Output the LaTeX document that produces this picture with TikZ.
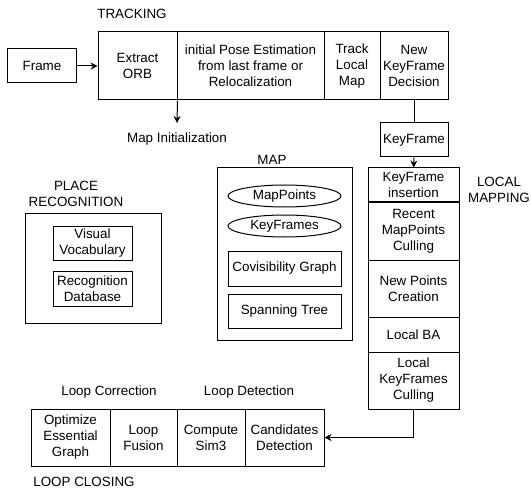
\documentclass[tikz,border=0pt]{standalone}
\usepackage{fontspec}
\setmainfont{Liberation Sans}
\usetikzlibrary{arrows.meta,shapes.geometric}
\begin{document}
\begin{tikzpicture}[x=1bp,y=-1bp,
  every node/.style={font=\fontsize{13.4bp}{16bp}\selectfont, inner sep=0pt, align=center},
  box/.style={draw, line width=1bp, minimum width=#1},
  lbl/.style={},
  conn/.style={line width=1bp, -{Stealth[length=7bp,width=7bp]}},
  plain/.style={line width=1bp}]
\useasboundingbox (0,0) rectangle (531,492);

% TRACKING
\node[lbl] (trk) at (132,14) {TRACKING};
\node[box=68bp, minimum height=34bp] (frame) at (42,66) {Frame};
\node[box=79bp, minimum height=68bp] (orb) at (137.5,66) {Extract\\ORB};
\node[box=147bp, minimum height=68bp] (pose) at (250.5,66) {initial Pose Estimation\\from last frame or\\Relocalization};
\node[box=56bp, minimum height=68bp] (tlm) at (352,66) {Track\\Local\\Map};
\node[box=68bp, minimum height=68bp] (nkd) at (414,66) {New\\KeyFrame\\Decision};
\draw[conn] (frame) -- (orb);
\node[lbl] (mapinit) at (177,139) {Map Initialization};
\coordinate (mi) at (177,123);
\draw[conn] (orb.south east) -- (mi);
\node[box=68bp, minimum height=34bp] (kf) at (414,140) {KeyFrame};
\draw[plain] (nkd) -- (kf);

% LOCAL MAPPING
\node[lbl] (lmlbl) at (499,190) {LOCAL\\MAPPING};
\node[box=91bp, minimum height=34bp] (kfi) at (413.5,185) {KeyFrame\\insertion};
\node[box=91bp, minimum height=58bp] (rmc) at (413.5,231) {Recent\\MapPoints\\Culling};
\node[box=91bp, minimum height=57bp] (npc) at (413.5,288.5) {New Points\\Creation};
\node[box=91bp, minimum height=35bp] (lba) at (413.5,334.5) {Local BA};
\node[box=91bp, minimum height=57bp] (lkc) at (413.5,380.5) {Local\\KeyFrames\\Culling};
\draw[conn] (kf) -- (kfi);

% MAP
\node[lbl] (maplbl) at (272,160) {MAP};
\node[box=135bp, minimum height=172bp] (mapbox) at (284.5,254) {};
\node[draw, line width=1bp, ellipse, minimum width=113bp, minimum height=22bp] (mp) at (284.5,196) {MapPoints};
\node[draw, line width=1bp, ellipse, minimum width=113bp, minimum height=22bp] (kfs) at (284.5,226) {KeyFrames};
\node[box=113bp, minimum height=35bp] (cov) at (284.5,268.5) {Covisibility Graph};
\node[box=113bp, minimum height=34bp] (span) at (284.5,311) {Spanning Tree};

% PLACE RECOGNITION
\node[lbl] (prlbl) at (76,194) {PLACE\\RECOGNITION};
\node[box=135bp, minimum height=109bp] (prbox) at (93.5,268.5) {};
\node[box=79bp, minimum height=34bp] (vv) at (92.5,243) {Visual\\Vocabulary};
\node[box=79bp, minimum height=35bp] (rd) at (92.5,288.5) {Recognition\\Database};

% LOOP CLOSING
\node[lbl] (lcorr) at (109,392) {Loop Correction};
\node[lbl] (ldet) at (249,392) {Loop Detection};
\node[box=79bp, minimum height=57bp] (oeg) at (70.5,437.5) {Optimize\\Essential\\Graph};
\node[box=67bp, minimum height=57bp] (lf) at (143.5,437.5) {Loop\\Fusion};
\node[box=68bp, minimum height=57bp] (cs) at (211,437.5) {Compute\\Sim3};
\node[box=79bp, minimum height=57bp] (cd) at (284.5,437.5) {Candidates\\Detection};
\node[lbl] (lclbl) at (84,482) {LOOP CLOSING};
\draw[conn] (lkc.south) |- (cd.east);
\end{tikzpicture}
\end{document}
